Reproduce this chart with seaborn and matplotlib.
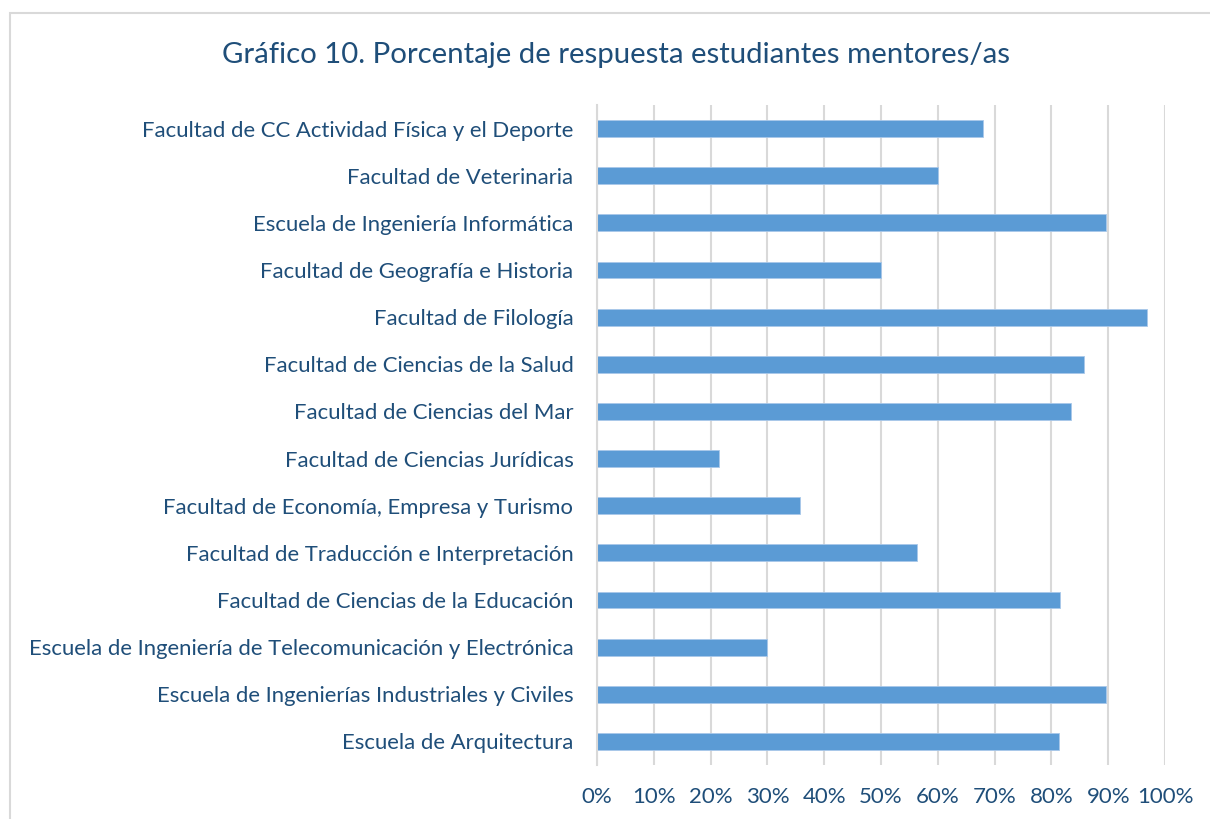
import matplotlib
matplotlib.use("Agg")
import matplotlib.pyplot as plt
import seaborn as sns
import pandas as pd
from matplotlib.patches import Rectangle
from matplotlib.ticker import PercentFormatter

# Data (top to bottom)
centros = [
    "Facultad de CC Actividad Física y el Deporte",
    "Facultad de Veterinaria",
    "Escuela de Ingeniería Informática",
    "Facultad de Geografía e Historia",
    "Facultad de Filología",
    "Facultad de Ciencias de la Salud",
    "Facultad de Ciencias del Mar",
    "Facultad de Ciencias Jurídicas",
    "Facultad de Economía, Empresa y Turismo",
    "Facultad de Traducción e Interpretación",
    "Facultad de Ciencias de la Educación",
    "Escuela de Ingeniería de Telecomunicación y Electrónica",
    "Escuela de Ingenierías Industriales y Civiles",
    "Escuela de Arquitectura",
]
porcentaje = [0.68, 0.60, 0.897, 0.50, 0.968, 0.857, 0.834, 0.215, 0.357,
              0.563, 0.815, 0.30, 0.897, 0.813]
ticks = [0, 0.1, 0.2, 0.3, 0.4, 0.5, 0.6, 0.7, 0.8, 0.9, 1.0]

df = pd.DataFrame({"centro": centros, "pct": porcentaje})

sns.set_style("white")
plt.rcParams['font.family'] = ['Lato', 'DejaVu Sans']
text_color = "#1f4e79"
grid_color = "#d9d9d9"

fig = plt.figure(figsize=(12.1, 8.19), dpi=100)
ax = fig.add_axes([597 / 1210, 1 - 765 / 819, (1165 - 597) / 1210, (765 - 105) / 819])

sns.barplot(data=df, x="pct", y="centro", orient="h", color="#5b9bd5",
            width=0.36, saturation=1, edgecolor="#a9c8ea", linewidth=0.6, ax=ax)

ax.set_xlim(0, 1.0)
ax.set_ylim(13.5, -0.5)
ax.set_xticks(ticks)
ax.xaxis.set_major_formatter(PercentFormatter(1.0, decimals=0))
ax.set_xlabel("")
ax.set_ylabel("")
ax.grid(axis="x", color=grid_color, linewidth=1.5)
ax.set_axisbelow(True)
for s in ["top", "right", "bottom"]:
    ax.spines[s].set_visible(False)
ax.spines["left"].set_color(grid_color)
ax.spines["left"].set_linewidth(1.5)
ax.tick_params(axis="y", length=0, pad=17, labelsize=15.9, labelcolor=text_color)
ax.tick_params(axis="x", length=0, pad=16, labelsize=16, labelcolor=text_color)

fig.text(616 / 1210, 1 - 55 / 819, "Gráfico 10. Porcentaje de respuesta estudiantes mentores/as",
         ha="center", va="center", fontsize=21.2, color=text_color)

# chart area border
fig.patches.append(Rectangle((10 / 1210, -0.01), 1.1, 1 - 13 / 819 + 0.01,
                             transform=fig.transFigure, fill=False,
                             edgecolor="#d9d9d9", linewidth=1.5))

fig.savefig("out.png", dpi=100)
